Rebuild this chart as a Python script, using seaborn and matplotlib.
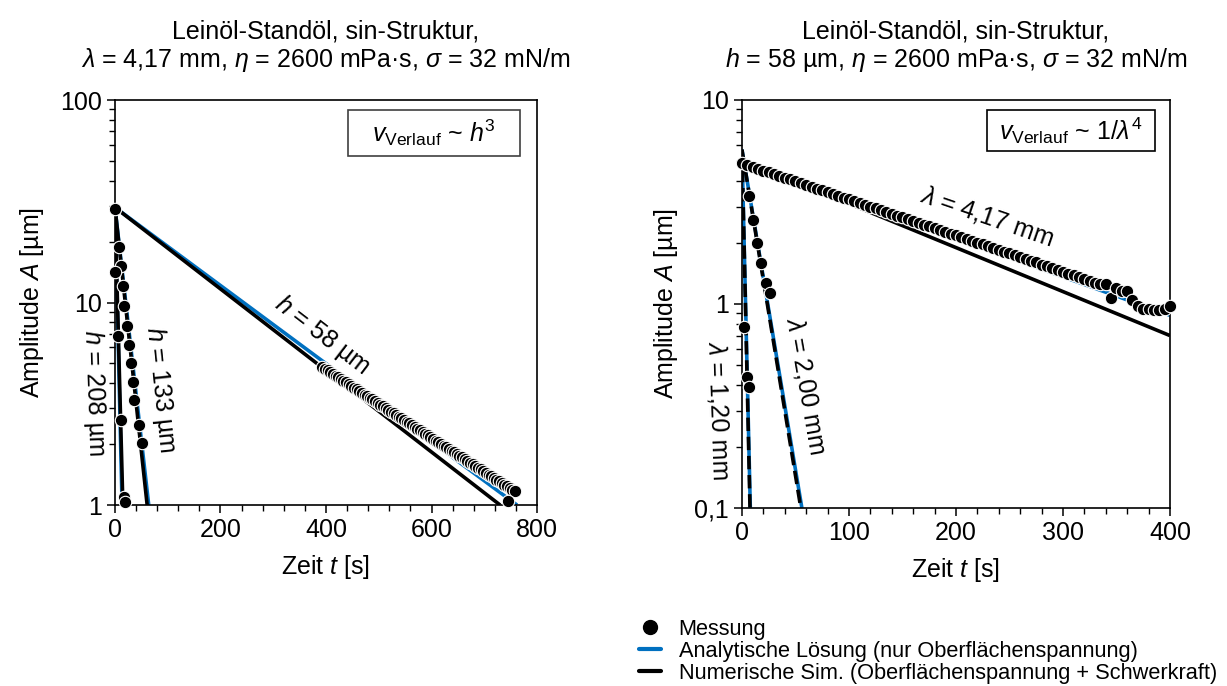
import numpy as np
import pandas as pd
import matplotlib
matplotlib.use("Agg")
import matplotlib.pyplot as plt
import seaborn as sns
from matplotlib.lines import Line2D
from matplotlib.patches import Rectangle
from matplotlib.ticker import FixedLocator, FixedFormatter, NullFormatter, MultipleLocator, LogLocator

sns.set_style("ticks")
plt.rcParams['font.family'] = ['Liberation Sans', 'DejaVu Sans']
plt.rcParams['mathtext.fontset'] = 'custom'
plt.rcParams['mathtext.rm'] = 'Liberation Sans'
plt.rcParams['mathtext.it'] = 'Liberation Sans:italic'
plt.rcParams['mathtext.bf'] = 'Liberation Sans:bold'
plt.rcParams['text.color'] = 'black'
plt.rcParams['axes.labelcolor'] = 'black'
plt.rcParams['xtick.color'] = 'black'
plt.rcParams['ytick.color'] = 'black'

BLUE = "#0070C0"

# ---------------- Left panel data (lambda = 4,17 mm) ----------------
h58_meas_t = [0] + list(range(393, 763, 5)) + [745]
h58_meas_A = [29.0,
              4.80, 4.71, 4.62, 4.53, 4.44, 4.35, 4.27, 4.19, 4.11, 4.03,
              3.95, 3.87, 3.80, 3.73, 3.65, 3.58, 3.51, 3.45, 3.38, 3.32,
              3.25, 3.19, 3.13, 3.07, 3.01, 2.95, 2.89, 2.84, 2.78, 2.73,
              2.68, 2.63, 2.58, 2.53, 2.48, 2.43, 2.38, 2.34, 2.29, 2.25,
              2.21, 2.16, 2.12, 2.08, 2.04, 2.00, 1.96, 1.93, 1.89, 1.85,
              1.82, 1.78, 1.75, 1.72, 1.68, 1.65, 1.62, 1.59, 1.56, 1.53,
              1.50, 1.47, 1.44, 1.41, 1.39, 1.36, 1.33, 1.31, 1.28, 1.26,
              1.24, 1.21, 1.19, 1.17,
              1.05]
h133_meas_t = [8, 11, 15, 18, 22, 27, 30, 34, 37, 46, 51]
h133_meas_A = [18.9, 15.1, 12.1, 9.6, 7.7, 6.2, 5.0, 4.06, 3.3, 2.48, 2.03]
h208_meas_t = [1, 6, 11, 17, 19.5]
h208_meas_A = [14.2, 6.8, 2.63, 1.10, 1.03]

h58_ana_t, h58_ana_A = [0, 762], [29.5, 1.0]
h58_num_t, h58_num_A = [0, 730], [29.5, 1.0]
h133_ana_t, h133_ana_A = [0, 64], [29.5, 1.0]
h133_num_t, h133_num_A = [0, 61], [29.5, 1.0]
h208_ana_t, h208_ana_A = [0, 13.5], [29.5, 1.0]
h208_num_t, h208_num_A = [0, 15], [29.5, 1.0]

# ---------------- Right panel data (h = 58 um) ----------------
l417_meas_t = list(range(0, 405, 5))
l417_meas_A = [4.90, 4.80, 4.70, 4.61, 4.51, 4.42, 4.33, 4.25, 4.16, 4.08,
               3.99, 3.91, 3.83, 3.76, 3.68, 3.61, 3.53, 3.46, 3.39, 3.32,
               3.26, 3.19, 3.13, 3.06, 3.00, 2.94, 2.88, 2.82, 2.77, 2.71,
               2.66, 2.60, 2.55, 2.50, 2.45, 2.40, 2.35, 2.30, 2.26, 2.21,
               2.17, 2.12, 2.08, 2.04, 2.00, 1.96, 1.92, 1.88, 1.84, 1.80,
               1.77, 1.73, 1.70, 1.66, 1.63, 1.60, 1.56, 1.53, 1.50, 1.47,
               1.44, 1.41, 1.38, 1.36, 1.33, 1.30, 1.27, 1.25, 1.25, 1.07,
               1.20, 1.16, 1.16, 1.04, 0.98, 0.95, 0.94, 0.93, 0.93, 0.94,
               0.98]
l200_meas_t = [6.8, 10.0, 14.3, 17.5, 22.1, 26.2]
l200_meas_A = [3.38, 2.58, 2.00, 1.58, 1.27, 1.13]
l120_meas_t = [1.9, 4.4, 6.5]
l120_meas_A = [0.77, 0.44, 0.39]

l417_ana_t, l417_ana_A = [0, 400], [5.0, 0.88]
l417_num_t, l417_num_A = [0, 400], [5.1, 0.70]
l200_ana_t, l200_ana_A = [0, 56], [5.7, 0.1]
l200_num_t, l200_num_A = [0, 55], [5.7, 0.1]
l120_ana_t, l120_ana_A = [0, 7.8], [5.7, 0.1]
l120_num_t, l120_num_A = [0, 7.5], [5.7, 0.1]

FS = 18
fig = plt.figure(figsize=(12.27, 6.86), dpi=100)
axL = fig.add_axes([0.0937, 0.2638, 0.344, 0.5904])
axR = fig.add_axes([0.6047, 0.2595, 0.3488, 0.5948])


def line(ax, t, A, color, lw, ls='-'):
    df = pd.DataFrame({'t': t, 'A': A})
    sns.lineplot(data=df, x='t', y='A', ax=ax, color=color, lw=lw, ls=ls,
                 estimator=None, sort=False, solid_capstyle='butt', dash_capstyle='butt')


def meas(ax, t, A):
    df = pd.DataFrame({'t': t, 'A': A})
    sns.scatterplot(data=df, x='t', y='A', ax=ax, color='black', s=80,
                    edgecolor='white', linewidth=0.8, clip_on=False, zorder=5)


for ax in (axL, axR):
    ax.set_yscale('log')

# left lines
for t, A in [(h58_ana_t, h58_ana_A), (h133_ana_t, h133_ana_A), (h208_ana_t, h208_ana_A)]:
    line(axL, t, A, BLUE, 2.6)
for t, A in [(h58_num_t, h58_num_A), (h133_num_t, h133_num_A), (h208_num_t, h208_num_A)]:
    line(axL, t, A, 'black', 2.6)
meas(axL, h58_meas_t, h58_meas_A)
meas(axL, h133_meas_t, h133_meas_A)
meas(axL, h208_meas_t, h208_meas_A)

# right lines
for t, A in [(l417_ana_t, l417_ana_A), (l200_ana_t, l200_ana_A), (l120_ana_t, l120_ana_A)]:
    line(axR, t, A, BLUE, 2.6)
line(axR, l417_num_t, l417_num_A, 'black', 2.6)
line(axR, l200_num_t, l200_num_A, 'black', 2.6, '--')
line(axR, l120_num_t, l120_num_A, 'black', 2.6, '--')
meas(axR, l417_meas_t, l417_meas_A)
meas(axR, l200_meas_t, l200_meas_A)
meas(axR, l120_meas_t, l120_meas_A)

# axes formatting
axL.set_xlim(0, 800)
axL.set_ylim(1, 100)
axL.xaxis.set_major_locator(MultipleLocator(200))
axL.xaxis.set_minor_locator(MultipleLocator(40))
axL.yaxis.set_major_locator(FixedLocator([1, 10, 100]))
axL.yaxis.set_major_formatter(FixedFormatter(['1', '10', '100']))

axR.set_xlim(0, 400)
axR.set_ylim(0.1, 10)
axR.xaxis.set_major_locator(MultipleLocator(100))
axR.xaxis.set_minor_locator(MultipleLocator(20))
axR.yaxis.set_major_locator(FixedLocator([0.1, 1, 10]))
axR.yaxis.set_major_formatter(FixedFormatter(['0,1', '1', '10']))

for ax in (axL, axR):
    ax.yaxis.set_minor_locator(LogLocator(base=10, subs=np.arange(2, 10)))
    ax.yaxis.set_minor_formatter(NullFormatter())
    ax.tick_params(which='major', direction='out', length=6, width=1.1, labelsize=FS,
                   colors='black', labelcolor='black')
    ax.tick_params(which='minor', direction='out', length=4, width=1.0, colors='black')
    for s in ax.spines.values():
        s.set_visible(True)
        s.set_color('black')
        s.set_linewidth(1.2)
    ax.set_xlabel('Zeit $t$ [s]', fontsize=FS, labelpad=8, color='black')
    ax.set_ylabel('Amplitude $A$ [µm]', fontsize=FS, labelpad=10, color='black')

axL.set_title('Leinöl-Standöl, sin-Struktur,\n$λ$ = 4,17 mm, $η$ = 2600 mPa·s, $σ$ = 32 mN/m',
              fontsize=FS, pad=24, linespacing=1.1, color='black')
axR.set_title('Leinöl-Standöl, sin-Struktur,\n$h$ = 58 µm, $η$ = 2600 mPa·s, $σ$ = 32 mN/m',
              fontsize=FS, pad=24, linespacing=1.1, color='black')

# annotations
axL.text(392, 6.9, '$h$ = 58 µm', fontsize=FS, rotation=-37.5, ha='center', va='center', rotation_mode='anchor')
axL.text(87, 3.7, '$h$ = 133 µm', fontsize=FS, rotation=-84, ha='center', va='center', rotation_mode='anchor')
axL.text(-40, 3.57, '$h$ = 208 µm', fontsize=FS, rotation=-88, ha='center', va='center', rotation_mode='anchor')
axR.text(229, 2.7, '$λ$ = 4,17 mm', fontsize=FS, rotation=-19, ha='center', va='center', rotation_mode='anchor')
axR.text(60, 0.40, '$λ$ = 2,00 mm', fontsize=FS, rotation=-80, ha='center', va='center', rotation_mode='anchor')
axR.text(-22, 0.30, '$λ$ = 1,20 mm', fontsize=FS, rotation=-88, ha='center', va='center', rotation_mode='anchor')

# boxes
axL.add_patch(Rectangle((0.552, 0.862), 0.408, 0.113, transform=axL.transAxes,
                        fill=False, ec='#404040', lw=1.2))
axL.text(0.756, 0.919, '$v_{\\mathrm{Verlauf}}$ ~ $h^3$', transform=axL.transAxes,
         fontsize=FS, ha='center', va='center')
axR.add_patch(Rectangle((0.572, 0.875), 0.393, 0.10, transform=axR.transAxes,
                        fill=False, ec='black', lw=1.2))
axR.text(0.768, 0.925, '$v_{\\mathrm{Verlauf}}$ ~ 1/$λ^4$', transform=axR.transAxes,
         fontsize=FS, ha='center', va='center')

handles = [Line2D([], [], ls='none', marker='o', color='black', markersize=10),
           Line2D([], [], color=BLUE, lw=3),
           Line2D([], [], color='black', lw=3)]
labels = ['Messung', 'Analytische Lösung (nur Oberflächenspannung)',
          'Numerische Sim. (Oberflächenspannung + Schwerkraft)']
fig.legend(handles, labels, loc='upper left', bbox_to_anchor=(0.521, 0.098),
           frameon=False, fontsize=15.7, handlelength=1.0, handletextpad=0.8,
           labelspacing=0.05, borderaxespad=0, borderpad=0)

fig.savefig('out.png', dpi=100)
